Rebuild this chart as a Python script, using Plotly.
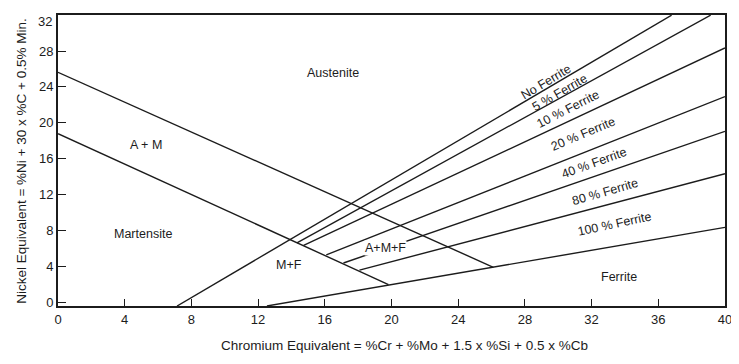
import plotly.graph_objects as go

# ---- data (Chromium equivalent on x, Nickel equivalent on y) ----
x_ticks = [0, 4, 8, 12, 16, 20, 24, 28, 32, 36, 40]
y_ticks = [0, 4, 8, 12, 16, 20, 24, 28, 32]

am_upper_x = [0.0, 26.11]          # Austenite / A+M boundary
am_upper_y = [25.63, 3.88]
am_lower_x = [0.0, 19.82]          # A+M / Martensite boundary
am_lower_y = [18.79, 1.95]
no_ferrite_x = [7.14, 36.80]
no_ferrite_y = [-0.44, 32.0]
f5_x = [14.33, 39.14]
f5_y = [6.61, 32.0]
f10_x = [14.73, 40.0]
f10_y = [6.31, 28.35]
f20_x = [16.09, 40.0]
f20_y = [5.26, 22.92]
f40_x = [17.12, 40.0]
f40_y = [4.36, 19.04]
f80_x = [18.08, 40.0]
f80_y = [3.56, 14.31]
f100_x = [12.53, 40.0]
f100_y = [-0.44, 8.33]

region_labels = ["Austenite", "A + M", "Martensite", "M+F", "A+M+F", "Ferrite"]
region_x = [16.48, 5.27, 5.12, 13.88, 19.62, 33.64]
region_y = [25.58, 17.49, 7.60, 4.09, 6.01, 2.80]

ferrite_labels = ["No Ferrite", "5 % Ferrite", "10 % Ferrite", "20 % Ferrite",
                  "40 % Ferrite", "80 % Ferrite", "100 % Ferrite"]
ferrite_x = [29.27, 30.05, 30.61, 31.50, 32.15, 32.80, 33.40]
ferrite_y = [24.58, 23.36, 21.53, 18.77, 15.53, 12.29, 8.69]
ferrite_angle = [-31, -30, -27, -23, -20, -16, -12]

FONT = "Liberation Sans, Arial, sans-serif"
INK = "#1c1c1c"

fig = go.Figure()
for xs, ys in [(am_upper_x, am_upper_y), (am_lower_x, am_lower_y),
               (no_ferrite_x, no_ferrite_y), (f5_x, f5_y), (f10_x, f10_y),
               (f20_x, f20_y), (f40_x, f40_y), (f80_x, f80_y), (f100_x, f100_y)]:
    fig.add_trace(go.Scatter(x=xs, y=ys, mode="lines",
                             line=dict(color=INK, width=1.4),
                             hoverinfo="skip", showlegend=False, cliponaxis=True))

annotations = []
for t, x, y in zip(region_labels, region_x, region_y):
    a = dict(x=x, y=y, xref="x", yref="y", text=t, showarrow=False,
             font=dict(family=FONT, size=12.5, color=INK),
             xanchor="center", yanchor="middle")
    if t == "A+M+F":
        a.update(bgcolor="white", borderpad=0)
    annotations.append(a)
for t, x, y, ang in zip(ferrite_labels, ferrite_x, ferrite_y, ferrite_angle):
    annotations.append(dict(x=x, y=y, xref="x", yref="y", text=t, showarrow=False,
                            textangle=ang,
                            font=dict(family=FONT, size=12.5, color=INK),
                            xanchor="center", yanchor="middle"))
annotations.append(dict(x=0.519, y=-0.137, xref="paper", yref="paper",
                        text="Chromium Equivalent = %Cr + %Mo + 1.5 x %Si + 0.5 x %Cb",
                        showarrow=False, font=dict(family=FONT, size=13.5, color=INK),
                        xanchor="center", yanchor="middle"))
annotations.append(dict(x=-0.055, y=0.5, xref="paper", yref="paper",
                        text="Nickel Equivalent = %Ni + 30 x %C + 0.5% Min.",
                        textangle=-90, showarrow=False,
                        font=dict(family=FONT, size=13.5, color=INK),
                        xanchor="center", yanchor="middle"))
# top tick label sits a little below the frame in the original (the axis
# would otherwise drop it at the figure edge)
annotations.append(dict(x=-0.006, y=0.979, xref="paper", yref="paper",
                        text=str(y_ticks[-1]), showarrow=False,
                        font=dict(family=FONT, size=13, color=INK),
                        xanchor="right", yanchor="middle"))

# page body has an 8px margin, so the figure is sized/offset to compensate
fig.update_layout(
    width=731, height=356,
    margin=dict(l=49.5, r=14, t=5, b=58),
    paper_bgcolor="white", plot_bgcolor="white",
    annotations=annotations,
    xaxis=dict(range=[0, 40.001], tickvals=x_ticks, ticktext=[str(v) for v in x_ticks],
               showgrid=False, zeroline=False, showline=True, mirror=True,
               linecolor=INK, linewidth=1.8, ticks="inside", ticklen=7,
               tickcolor=INK, tickwidth=1.4,
               tickfont=dict(family=FONT, size=13, color=INK)),
    yaxis=dict(range=[-0.44, 32.02], tickvals=y_ticks,
               ticktext=[str(v) for v in y_ticks[:-1]] + [""],
               showgrid=False, zeroline=False, showline=True, mirror=True,
               linecolor=INK, linewidth=1.8, ticks="inside", ticklen=8,
               tickcolor=INK, tickwidth=1.4,
               tickfont=dict(family=FONT, size=13, color=INK)),
)

fig.write_html("out.html")
